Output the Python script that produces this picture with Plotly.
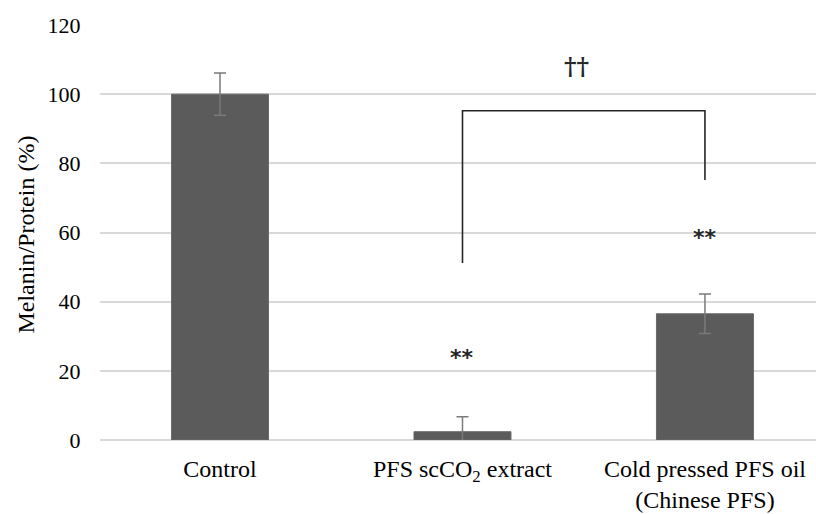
import plotly.graph_objects as go

categories = ["Control", "PFS scCO<sub>2</sub> extract", "Cold pressed PFS oil<br>(Chinese PFS)"]
values = [100.0, 2.4, 36.5]
errors = [6.1, 4.3, 5.7]
y_ticks = [0, 20, 40, 60, 80, 100, 120]
y_title = "Melanin/Protein (%)"

# annotation data
star_labels = ["", "**", "**"]
star_y = [None, 24, 58.5]
bracket_top = 95.2
bracket_left_bottom = 51.2
bracket_right_bottom = 75.2
dagger_text = "††"
dagger_y = 108

xpos = [0, 1, 2]

fig = go.Figure()
fig.add_trace(go.Bar(
    x=xpos, y=values, width=0.4,
    marker=dict(color="#5b5b5b", line=dict(color="#6a6a6a", width=1)),
    error_y=dict(type="data", array=errors, visible=True, color="#7a7a7a", thickness=1.5, width=6),
    showlegend=False,
))

# bracket
fig.add_trace(go.Scatter(
    x=[xpos[1], xpos[1], xpos[2], xpos[2]],
    y=[bracket_left_bottom, bracket_top, bracket_top, bracket_right_bottom],
    mode="lines", line=dict(color="#262626", width=1.6), showlegend=False, hoverinfo="skip",
))

for i, (lab, yy) in enumerate(zip(star_labels, star_y)):
    if lab:
        fig.add_annotation(x=xpos[i], y=yy, text="<b>" + lab + "</b>", showarrow=False,
                           font=dict(family="DejaVu Sans", size=22, color="#262626"))

fig.add_annotation(x=(xpos[1] + xpos[2]) / 2 - 0.03, y=dagger_y, text="<b>" + dagger_text + "</b>", showarrow=False,
                   font=dict(family="DejaVu Serif", size=24, color="#262626"))

# y-axis title as annotation for precise placement
fig.add_annotation(xref="paper", yref="paper", x=-0.1034, y=0.495, text=y_title, textangle=-90,
                   showarrow=False, xanchor="center", yanchor="middle",
                   font=dict(family="Liberation Serif", size=24, color="#000000"))

fig.update_layout(
    width=816, height=514,
    margin=dict(l=100, r=0, t=25, b=74, autoexpand=False),
    paper_bgcolor="white", plot_bgcolor="white",
    font=dict(family="Liberation Serif", color="#000000"),
    bargap=0.6,
)
fig.update_xaxes(
    range=[-0.495, 2.458], tickmode="array", tickvals=xpos, ticktext=categories,
    tickfont=dict(family="Liberation Serif", size=24, color="#000000"),
    showgrid=False, showline=False, zeroline=False, ticks="outside", ticklen=7, tickcolor="rgba(0,0,0,0)",
    automargin=False,
)
fig.update_yaxes(
    range=[0, 120], tickmode="array", tickvals=y_ticks,
    tickfont=dict(family="Liberation Serif", size=22, color="#000000"),
    showgrid=True, gridcolor="#d9d9d9", gridwidth=1.5, zeroline=True, zerolinecolor="#d9d9d9", zerolinewidth=1.5,
    showline=False, ticks="outside", ticklen=14, tickcolor="rgba(0,0,0,0)",
    automargin=False,
)

fig.write_html("out.html")
